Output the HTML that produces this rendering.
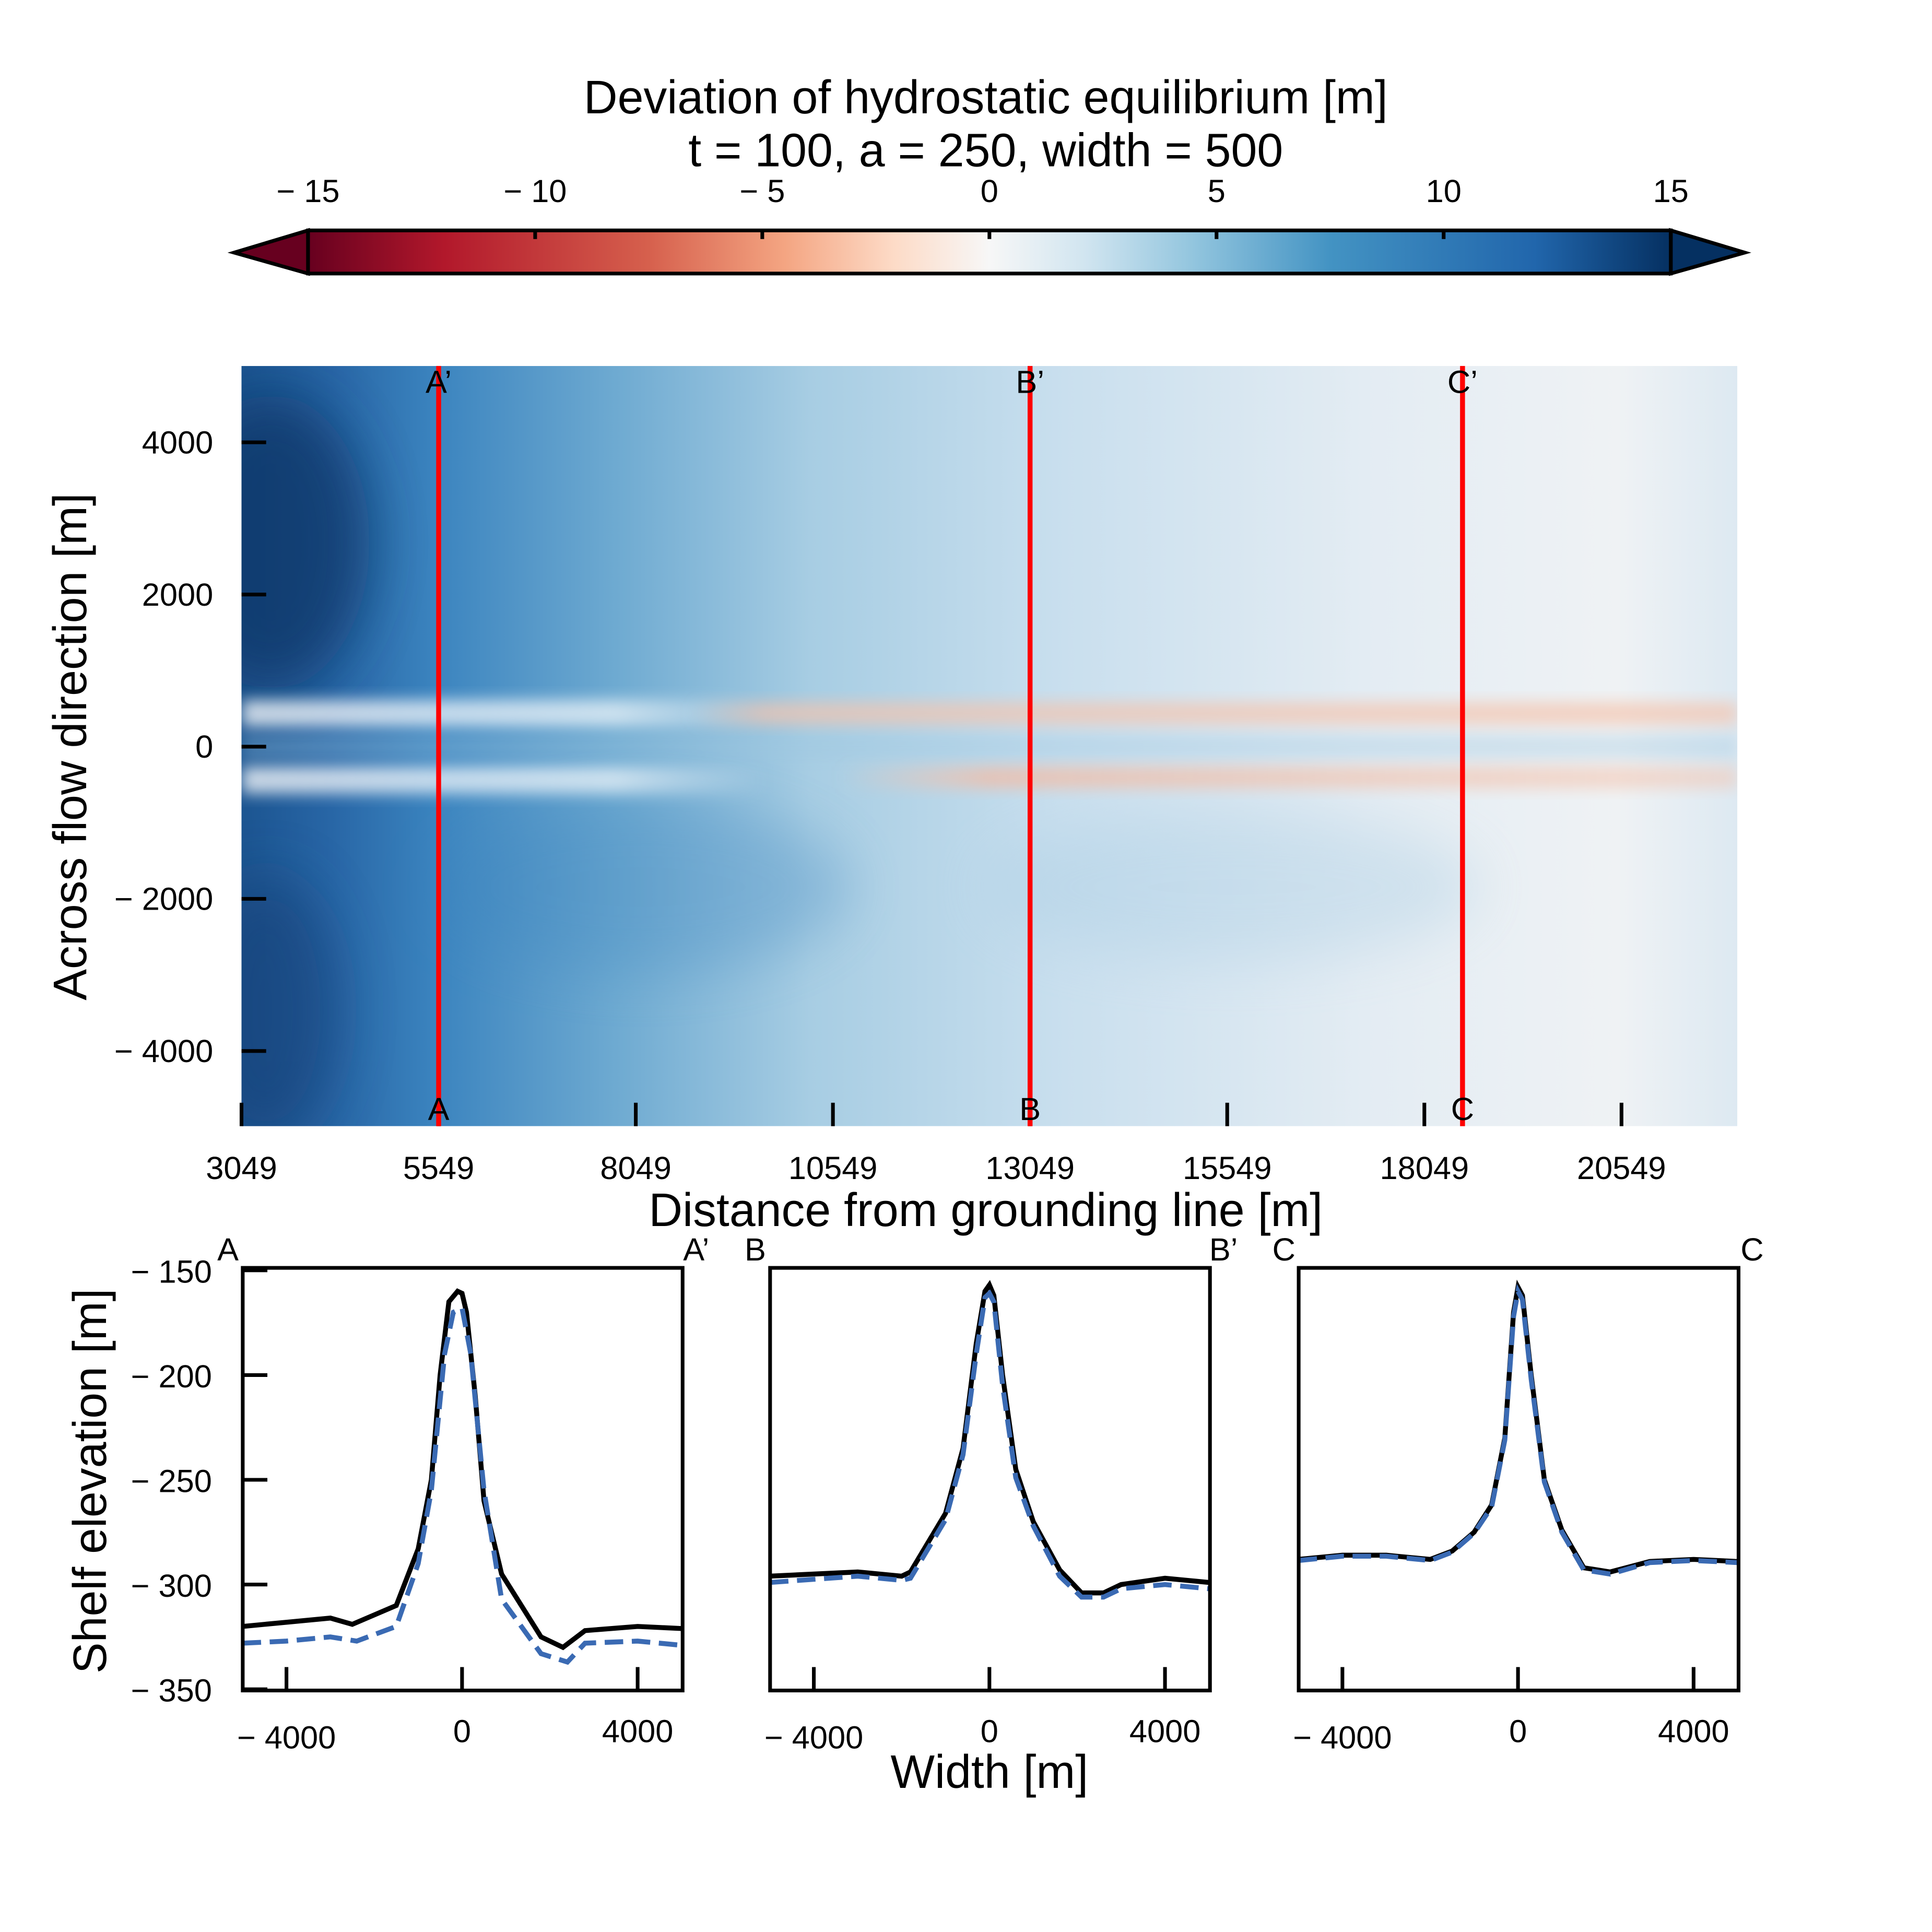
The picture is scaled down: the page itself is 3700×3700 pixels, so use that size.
<!DOCTYPE html>
<html><head><meta charset="utf-8"><style>
html,body{margin:0;padding:0;background:#fff;}
svg{display:block;font-family:"Liberation Sans",sans-serif;}
</style></head><body>
<svg id="fig" width="3700" height="3700" viewBox="0 0 1568 1568" xmlns="http://www.w3.org/2000/svg">
<defs>
<linearGradient id="cbar" x1="0" x2="1" y1="0" y2="0">
<stop offset="0" stop-color="#67001f"/><stop offset="0.1" stop-color="#b2182b"/><stop offset="0.25" stop-color="#d6604d"/><stop offset="0.35" stop-color="#f4a582"/><stop offset="0.43" stop-color="#fddbc7"/><stop offset="0.5" stop-color="#f7f7f7"/><stop offset="0.57" stop-color="#d1e5f0"/><stop offset="0.65" stop-color="#92c5de"/><stop offset="0.75" stop-color="#4393c3"/><stop offset="0.9" stop-color="#2166ac"/><stop offset="1" stop-color="#053061"/>
</linearGradient>
<linearGradient id="base" x1="0" x2="1" y1="0" y2="0">
<stop offset="0" stop-color="#1c5591"/><stop offset="0.06" stop-color="#2866a6"/><stop offset="0.13" stop-color="#3b84bf"/><stop offset="0.25" stop-color="#6eaad1"/><stop offset="0.38" stop-color="#a7cde3"/><stop offset="0.55" stop-color="#c9dfee"/><stop offset="0.75" stop-color="#e3ecf3"/><stop offset="0.92" stop-color="#eff2f4"/><stop offset="1" stop-color="#dde9f2"/>
</linearGradient>
<linearGradient id="whiteband" x1="0" x2="1"><stop offset="0" stop-color="#fff" stop-opacity="0.75"/><stop offset="0.25" stop-color="#fff" stop-opacity="0.65"/><stop offset="0.35" stop-color="#fff" stop-opacity="0"/></linearGradient>
<linearGradient id="redband" x1="0" x2="1"><stop offset="0" stop-color="#f4c3ad" stop-opacity="0"/><stop offset="0.3" stop-color="#f4c3ad" stop-opacity="0"/><stop offset="0.35" stop-color="#f4c3ad" stop-opacity="0.7"/><stop offset="1" stop-color="#f4c3ad" stop-opacity="0.7"/></linearGradient>
<linearGradient id="redband2" x1="0" x2="1"><stop offset="0" stop-color="#f4c3ad" stop-opacity="0"/><stop offset="0.4" stop-color="#f4c3ad" stop-opacity="0"/><stop offset="0.5" stop-color="#f2bca5" stop-opacity="0.75"/><stop offset="1" stop-color="#f4c3ad" stop-opacity="0.5"/></linearGradient>
<filter id="blur" x="-50%" y="-50%" width="200%" height="200%"><feGaussianBlur stdDeviation="22"/></filter>
<filter id="blur2" x="-20%" y="-50%" width="140%" height="200%"><feGaussianBlur stdDeviation="6"/></filter>
<clipPath id="mapclip"><rect x="196" y="297" width="1214" height="617"/></clipPath>
</defs>
<g id="root"></g>
</svg>
<script>
// ---- data ----
const cbTicks = [-15,-10,-5,0,5,10,15];
const mapXTicks = [3049,5549,8049,10549,13049,15549,18049,20549];
const mapYTicks = [4000,2000,0,-2000,-4000];
const sectionX = [5549,13049,18533];
const sectionNames = ["A","B","C"];
const profXTicks = [-4000,0,4000];
const profYTicks = [-150,-200,-250,-300,-350];
const xA = [-5000,-4000,-3000,-2500,-1500,-1000,-700,-500,-300,-100,0,100,300,500,900,1800,2300,2800,4000,5000];
const blackA = [-320,-318,-316,-319,-310,-283,-250,-200,-165,-160,-161,-170,-210,-260,-295,-325,-330,-322,-320,-321];
const xA2 = [-5000,-4000,-3000,-2400,-1500,-1000,-700,-400,-200,0,200,500,900,1800,2400,2800,4000,5000];
const blueA = [-328,-327,-325,-327,-320,-290,-255,-190,-170,-168,-190,-255,-307,-333,-337,-328,-327,-329];
const xB = [-5000,-3000,-2000,-1800,-1000,-600,-300,-100,0,100,300,600,1000,1600,2100,2600,3000,4000,5000];
const blackB = [-296,-294,-296,-294,-266,-235,-185,-160,-157,-162,-200,-245,-270,-293,-304,-304,-300,-297,-299];
const blueB = [-299,-296,-298,-297,-269,-238,-190,-163,-161,-165,-205,-249,-272,-296,-306,-306,-302,-300,-302];
const xC = [-5000,-4000,-3000,-2000,-1500,-1000,-600,-300,-100,0,100,300,600,1000,1500,2100,3000,4000,5000];
const blackC = [-288,-286,-286,-288,-284,-275,-262,-230,-170,-158,-162,-200,-250,-274,-292,-294,-289,-288,-289];
const blueC = [-288.5,-286.5,-286.5,-288.5,-284.5,-275.5,-263,-231,-172,-160,-164,-202,-251,-275,-293,-295,-289.5,-288.5,-289.5];

const NS="http://www.w3.org/2000/svg";
const root=document.getElementById('root');
function el(tag,attrs,parent){const e=document.createElementNS(NS,tag);for(const k in attrs)e.setAttribute(k,attrs[k]);(parent||root).appendChild(e);return e;}
function txt(s,x,y,size,anchor,parent,rot){const t=el('text',{x:x,y:y,'font-size':size,'text-anchor':anchor||'middle',fill:'#000'},parent);if(rot)t.setAttribute('transform',`rotate(${rot} ${x} ${y})`);t.textContent=s;return t;}
function fmt(v){return v<0?'\u2212 '+Math.abs(v):String(v);}
const TF=28, LF=38;

// ---- title ----
let t1=txt('Deviation of hydrostatic equilibrium [m]',800,92,LF);


let t2=txt('t = 100, a = 250, width = 500',800,135,LF);



// ---- colorbar ----
const cbX=v=>250+(v+15)/30*(1356-250);
const cb=el('g',{});


el('polygon',{points:'250,187 190,205 250,222','fill':'#67001f',stroke:'#000','stroke-width':3},cb);
el('polygon',{points:'1356,187 1416,205 1356,222','fill':'#053061',stroke:'#000','stroke-width':3},cb);
el('rect',{x:250,y:187,width:1106,height:35,fill:'url(#cbar)',stroke:'#000','stroke-width':3},cb);
cbTicks.forEach(v=>{const x=cbX(v);el('line',{x1:x,x2:x,y1:187,y2:194,stroke:'#000','stroke-width':3},cb);
 const t=txt(fmt(v),x,164,TF-2,'middle',cb);
 
 });

// ---- map ----
const mx=v=>196+(v-3049)/2500*160;
const my=v=>606-v/4000*247;
const map=el('g',{'clip-path':'url(#mapclip)'});


el('rect',{x:196,y:297,width:1214,height:617,fill:'url(#base)'},map);
el('ellipse',{cx:220,cy:440,rx:80,ry:120,fill:'#0b3566',opacity:0.75,filter:'url(#blur)'},map);
el('ellipse',{cx:215,cy:820,rx:60,ry:110,fill:'#123f77',opacity:0.6,filter:'url(#blur)'},map);
el('ellipse',{cx:520,cy:720,rx:170,ry:70,fill:'#3c85bf',opacity:0.3,filter:'url(#blur)'},map);
el('ellipse',{cx:1000,cy:720,rx:200,ry:60,fill:'#a8cce3',opacity:0.35,filter:'url(#blur)'},map);
el('rect',{x:196,y:568,width:1214,height:22,fill:'url(#whiteband)',filter:'url(#blur2)'},map);
el('rect',{x:196,y:622,width:1214,height:22,fill:'url(#whiteband)',filter:'url(#blur2)'},map);
el('rect',{x:196,y:596,width:1214,height:20,fill:'#9cc6e0',opacity:0.35,filter:'url(#blur2)'},map);
el('rect',{x:196,y:570,width:1214,height:18,fill:'url(#redband)',filter:'url(#blur2)'},map);
el('rect',{x:196,y:622,width:1214,height:18,fill:'url(#redband2)',filter:'url(#blur2)'},map);
mapXTicks.forEach(v=>{const x=mx(v);el('line',{x1:x,x2:x,y1:914,y2:895,stroke:'#000','stroke-width':3});
 const t=txt(String(v),x,957,TF-2);
 
 });
mapYTicks.forEach(v=>{const y=my(v);el('line',{x1:196,x2:216,y1:y,y2:y,stroke:'#000','stroke-width':3});
 const t=txt(fmt(v),173,y+9,TF-2,'end');
 
 });
sectionX.forEach((v,i)=>{const x=mx(v);
 const l=el('line',{x1:x,x2:x,y1:297,y2:914,stroke:'#ff0000','stroke-width':4});
 
 
 txt(sectionNames[i]+'\u2019',x,319,26);
 txt(sectionNames[i],x,909,26);});
let xl=txt('Distance from grounding line [m]',800,995,LF);


let yl=txt('Across flow direction [m]',70,606,LF,'middle',null,-90);



// ---- profiles ----
const panels=[{x0:197,xs:[xA,xA2],b:blackA,u:blueA},{x0:625,xs:[xB,xB],b:blackB,u:blueB},{x0:1054,xs:[xC,xC],b:blackC,u:blueC}];
const py=v=>1031+(-150-v)/50*85;
panels.forEach((p,i)=>{
 const g=el('g',{});
 
 
 const px=v=>p.x0+178+v/4000*142.5;
 const cl=el('clipPath',{id:'pc'+i},g);el('rect',{x:p.x0,y:1029,width:357,height:343},cl);
 const inner=el('g',{'clip-path':`url(#pc${i})`},g);
 const bl=el('path',{d:p.xs[0].map((x,k)=>(k?'L':'M')+px(x).toFixed(1)+','+py(p.b[k]).toFixed(1)).join(''),fill:'none',stroke:'#000','stroke-width':4},inner);
 
 
 const ul=el('path',{d:p.xs[1].map((x,k)=>(k?'L':'M')+px(x).toFixed(1)+','+py(p.u[k]).toFixed(1)).join(''),fill:'none',stroke:'#3a6ab3','stroke-width':4,'stroke-dasharray':'15,7'},inner);
 
 
 el('rect',{x:p.x0,y:1029,width:357,height:343,fill:'none',stroke:'#000','stroke-width':3},g);
 profXTicks.forEach(v=>{const x=px(v);el('line',{x1:x,x2:x,y1:1372,y2:1353,stroke:'#000','stroke-width':3},g);
  const t=txt(fmt(v),x,v<0?1419:1414,TF-2,'middle',g);
  
  });
 if(i===0){profYTicks.forEach(v=>{const y=py(v);el('line',{x1:p.x0,x2:p.x0+20,y1:y,y2:y,stroke:'#000','stroke-width':3},g);
  const t=txt(fmt(v),172,y+10,TF-2,'end',g);
  
  });}
 const n=sectionNames[i];
 txt(n,p.x0-12,1023,26,'middle',g);
 txt(i===2?n:n+'\u2019',p.x0+368,1023,26,'middle',g);
});
let wl=txt('Width [m]',803,1451,LF);


let sl=txt('Shelf elevation [m]',86,1202,LF,'middle',null,-90);


</script>
</body></html>
